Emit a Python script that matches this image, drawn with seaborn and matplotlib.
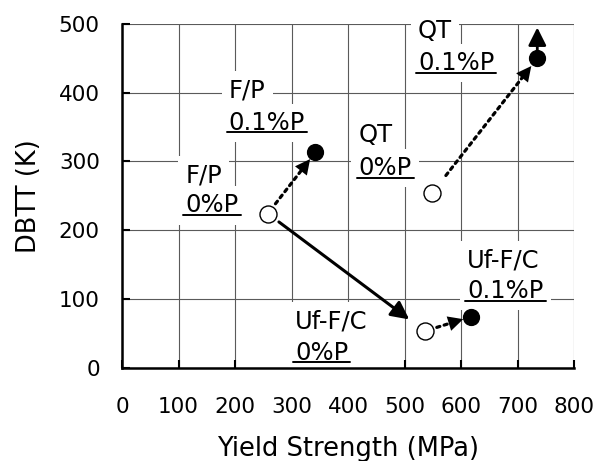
import matplotlib
matplotlib.use('Agg')
import matplotlib.pyplot as plt
import seaborn as sns
import pandas as pd
from matplotlib.lines import Line2D

# ---------------- data ----------------
processes = ['F/P', 'QT', 'Uf-F/C']
ys_0p = [258, 549, 536]        # yield strength, 0 %P
dbtt_0p = [224, 254, 53]       # DBTT, 0 %P
ys_01p = [342, 735, 618]       # yield strength, 0.1 %P
dbtt_01p = [313, 450, 74]      # DBTT, 0.1 %P
qt_arrow_top = 495             # QT 0.1%P value is a lower bound (arrow up)
pct_labels = ['0%P', '0.1%P']
x_ticks = [0, 100, 200, 300, 400, 500, 600, 700, 800]
y_ticks = [0, 100, 200, 300, 400, 500]

# ---------------- style ----------------
sns.set_theme(style='white')
plt.rcParams['font.family'] = ['DejaVu Sans']

df = pd.DataFrame({
    'process': processes * 2,
    'P': [pct_labels[0]] * 3 + [pct_labels[1]] * 3,
    'ys': ys_0p + ys_01p,
    'dbtt': dbtt_0p + dbtt_01p,
})

fig = plt.figure(figsize=(5.97, 4.61), dpi=100)
ax = fig.add_axes([0.2044, 0.2028, 0.7571, 0.7451])

ax.set_xlim(x_ticks[0], x_ticks[-1])
ax.set_ylim(y_ticks[0], y_ticks[-1])
ax.set_xticks(x_ticks)
ax.set_yticks(y_ticks)
ax.set_axisbelow(True)
ax.grid(True, color='#5a5a5a', linewidth=0.8)
for s in ['top', 'right']:
    ax.spines[s].set_visible(False)
for s in ['left', 'bottom']:
    ax.spines[s].set_color('black')
    ax.spines[s].set_linewidth(1.8)
    ax.spines[s].set_zorder(7)
ax.tick_params(axis='both', direction='in', length=6, width=1.5, colors='black',
               labelsize=15.5, left=True, bottom=True)
ax.tick_params(axis='x', pad=21)
ax.tick_params(axis='y', pad=16)

# markers
sns.scatterplot(data=df[df['P'] == pct_labels[0]], x='ys', y='dbtt', ax=ax,
                color='white', edgecolor='black', linewidth=1.0, s=150, zorder=6)
sns.scatterplot(data=df[df['P'] == pct_labels[1]], x='ys', y='dbtt', ax=ax,
                color='black', edgecolor='black', linewidth=1.0, s=130, zorder=6)
ax.set_xlabel('Yield Strength (MPa)', fontsize=18.5, color='black')
ax.set_ylabel('DBTT (K)', fontsize=18.5, color='black')
ax.xaxis.set_label_coords(0.5, -0.20)
ax.yaxis.set_label_coords(-0.178, 0.5)

HEAD_LEN = 0.6
HEAD_W = 0.3
MS = 18
head = f'-|>,head_length={HEAD_LEN},head_width={HEAD_W}'


def dotted_arrow(p0, p1, sa, sb):
    # dotted shaft, stopping where the head starts
    ax.annotate('', xy=p1, xytext=p0,
                arrowprops=dict(arrowstyle='-', color='black', lw=2.3,
                                linestyle=(0, (1, 1.4)), shrinkA=sa,
                                shrinkB=sb + HEAD_LEN * MS * 0.8),
                zorder=5)
    # solid filled head only
    ax.annotate('', xy=p1, xytext=p0,
                arrowprops=dict(arrowstyle=head, color='black', lw=0,
                                mutation_scale=MS, shrinkA=sa, shrinkB=sb),
                zorder=5)


# dotted arrows 0%P -> 0.1%P
dot_shrink = [(9, 6), (16, 7), (9, 6)]
for i in range(len(processes)):
    dotted_arrow((ys_0p[i], dbtt_0p[i]), (ys_01p[i], dbtt_01p[i]), *dot_shrink[i])

# solid arrow F/P 0%P -> Uf-F/C 0%P
ax.annotate('', xy=(ys_0p[2], dbtt_0p[2]), xytext=(ys_0p[0], dbtt_0p[0]),
            arrowprops=dict(arrowstyle=head, color='black', lw=2.2,
                            mutation_scale=MS, shrinkA=10, shrinkB=14),
            zorder=5)
# upward arrow for QT 0.1%P
ax.annotate('', xy=(ys_01p[1], qt_arrow_top), xytext=(ys_01p[1], dbtt_01p[1]),
            arrowprops=dict(arrowstyle=head, color='black', lw=2.0,
                            mutation_scale=MS, shrinkA=0, shrinkB=0),
            zorder=5)

# labels: (left x, baseline of name, baseline of %P line) per point
label_pos_0p = [(112, 270, 226), (419, 328, 280), (306, 57, 11)]
label_pos_01p = [(189, 393, 346), (524, 479, 433), (611, 146, 101)]

box = dict(boxstyle='square,pad=0.3', fc='white', ec='none')
under_texts = []
for i, name in enumerate(processes):
    for pos, pl in ((label_pos_0p[i], pct_labels[0]), (label_pos_01p[i], pct_labels[1])):
        x, yn, yp = pos
        ax.text(x, yn, name, fontsize=17.5, ha='left', va='baseline',
                color='black', bbox=box, zorder=3)
        t = ax.text(x, yp, pl, fontsize=17.5, ha='left', va='baseline',
                    color='black', bbox=box, zorder=3)
        under_texts.append(t)

# underline the %P labels
fig.canvas.draw()
r = fig.canvas.get_renderer()
inv = fig.transFigure.inverted()
for t in under_texts:
    bb = t.get_window_extent(renderer=r)
    y = bb.y0 + 2.5
    (x0, yy), (x1, _) = inv.transform([(bb.x0 - 2, y), (bb.x1 + 2, y)])
    fig.add_artist(Line2D([x0, x1], [yy, yy], transform=fig.transFigure,
                          color='black', linewidth=1.4, zorder=4))

fig.savefig('out.png', dpi=100)
